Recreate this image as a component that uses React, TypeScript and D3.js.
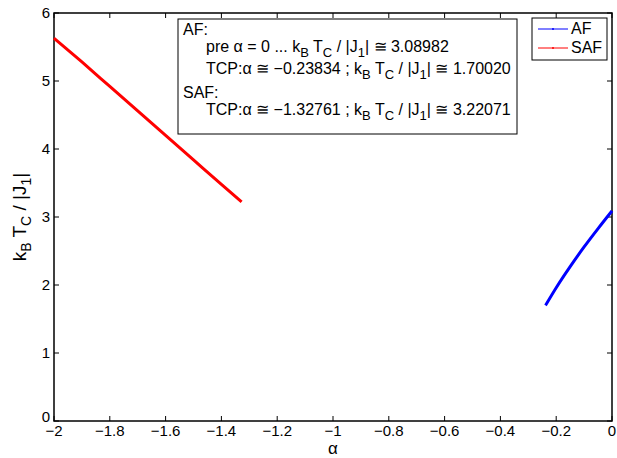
import React, { useEffect, useRef } from 'react';
import * as d3 from 'd3';

const xTicks = [-2, -1.8, -1.6, -1.4, -1.2, -1, -0.8, -0.6, -0.4, -0.2, 0];
const yTicks = [0, 1, 2, 3, 4, 5, 6];

// SAF branch (red)
const safAlpha = [-2, -1.9, -1.8, -1.7, -1.6, -1.5, -1.4, -1.32761];
const safT = [5.63, 5.28, 4.92, 4.56, 4.2, 3.84, 3.48, 3.22071];

// AF branch (blue)
const afAlpha = [-0.23834, -0.2, -0.15, -0.1, -0.05, 0];
const afT = [1.7002, 1.96, 2.27, 2.56, 2.83, 3.08982];

const fmt = (v: number) => (v === 0 ? '0' : String(v).replace('-', '\u2212'));

export default function App() {
  const ref = useRef<SVGSVGElement>(null);

  useEffect(() => {
    const svg = d3.select(ref.current);
    svg.selectAll('*').remove();

    const W = 617;
    const H = 458;
    const margin = { top: 13, right: 5, bottom: 37, left: 54 };
    const x = d3.scaleLinear().domain([-2, 0]).range([margin.left, W - margin.right]);
    const y = d3.scaleLinear().domain([0, 6]).range([H - margin.bottom, margin.top]);
    const font = 'Liberation Sans, Arial, sans-serif';

    svg.append('rect').attr('width', W).attr('height', H).attr('fill', '#fff');

    // axes with inward ticks
    const tl = 5;
    const ax = svg.append('g').attr('stroke', '#000').attr('stroke-width', 1);
    xTicks.forEach((t) => {
      ax.append('line').attr('x1', x(t)).attr('x2', x(t)).attr('y1', y(0)).attr('y2', y(0) - tl);
      ax.append('line').attr('x1', x(t)).attr('x2', x(t)).attr('y1', y(6)).attr('y2', y(6) + tl);
    });
    yTicks.forEach((t) => {
      ax.append('line').attr('x1', x(-2)).attr('x2', x(-2) + tl).attr('y1', y(t)).attr('y2', y(t));
      ax.append('line').attr('x1', x(0)).attr('x2', x(0) - tl).attr('y1', y(t)).attr('y2', y(t));
    });
    svg.append('rect')
      .attr('x', x(-2)).attr('y', y(6))
      .attr('width', x(0) - x(-2)).attr('height', y(0) - y(6))
      .attr('fill', 'none').attr('stroke', '#000').attr('stroke-width', 1.5);

    svg.append('g').selectAll('text').data(xTicks).enter().append('text')
      .attr('x', (d) => x(d)).attr('y', y(0) + 15)
      .attr('text-anchor', 'middle').attr('font-family', font).attr('font-size', 15)
      .text((d) => fmt(d));
    svg.append('g').selectAll('text').data(yTicks).enter().append('text')
      .attr('x', x(-2) - 4).attr('y', (d) => y(d) + (d === 0 ? 1 : 5))
      .attr('text-anchor', 'end').attr('font-family', font).attr('font-size', 15)
      .text((d) => String(d));

    // axis labels
    svg.append('text').attr('x', (x(-2) + x(0)) / 2).attr('y', 454)
      .attr('text-anchor', 'middle').attr('font-family', font).attr('font-size', 17).text('\u03b1');
    const yl = svg.append('text')
      .attr('transform', `translate(26,${(y(0) + y(6)) / 2}) rotate(-90)`)
      .attr('text-anchor', 'middle').attr('font-family', font).attr('font-size', 19);
    yl.append('tspan').text('k');
    yl.append('tspan').attr('dy', 5).attr('font-size', 14).text('B');
    yl.append('tspan').attr('dy', -5).text(' T');
    yl.append('tspan').attr('dy', 5).attr('font-size', 14).text('C');
    yl.append('tspan').attr('dy', -5).text(' / |J');
    yl.append('tspan').attr('dy', 5).attr('font-size', 14).text('1');
    yl.append('tspan').attr('dy', -5).text('|');

    // curves
    const line = d3.line<[number, number]>().x((d) => x(d[0])).y((d) => y(d[1])).curve(d3.curveMonotoneX);
    svg.append('path')
      .attr('d', line(safAlpha.map((a, i) => [a, safT[i]]))!)
      .attr('fill', 'none').attr('stroke', '#ff0000').attr('stroke-width', 3);
    svg.append('path')
      .attr('d', line(afAlpha.map((a, i) => [a, afT[i]]))!)
      .attr('fill', 'none').attr('stroke', '#0000ff').attr('stroke-width', 3);

    // annotation box
    const bx = 178, by = 19, bw = 339, bh = 115;
    svg.append('rect').attr('x', bx).attr('y', by).attr('width', bw).attr('height', bh)
      .attr('fill', '#fff').attr('stroke', '#000').attr('stroke-width', 1);
    const fs = 16;
    const addLine = (tx: number, ty: number, parts: [string, boolean][]) => {
      const t = svg.append('text').attr('x', tx).attr('y', ty).attr('font-family', font).attr('font-size', fs);
      let sub = false;
      parts.forEach(([s, isSub]) => {
        const sp = t.append('tspan').text(s);
        if (isSub) sp.attr('font-size', 13);
        if (isSub && !sub) sp.attr('dy', 5);
        else if (!isSub && sub) sp.attr('dy', -5);
        sub = isSub;
      });
    };
    const kt: [string, boolean][] = [['k', false], ['B', true], [' T', false], ['C', true], [' / |J', false], ['1', true]];
    addLine(bx + 5, by + 16, [['AF:', false]]);
    addLine(bx + 28, by + 33, [['pre \u03b1 = 0 ... ', false], ...kt, ['| \u2245 3.08982', false]]);
    addLine(bx + 28, by + 55, [['TCP:\u03b1 \u2245 \u22120.23834 ; ', false], ...kt, ['| \u2245 1.70020', false]]);
    addLine(bx + 5, by + 79, [['SAF:', false]]);
    addLine(bx + 28, by + 96, [['TCP:\u03b1 \u2245 \u22121.32761 ; ', false], ...kt, ['| \u2245 3.22071', false]]);

    // legend
    const lx = 532, ly = 18, lw = 75, lh = 42;
    svg.append('rect').attr('x', lx).attr('y', ly).attr('width', lw).attr('height', lh)
      .attr('fill', '#fff').attr('stroke', '#000').attr('stroke-width', 1);
    const legend: [string, string][] = [['AF', '#0000ff'], ['SAF', '#ff0000']];
    legend.forEach(([name, c], i) => {
      const yy = ly + 11 + i * 19;
      svg.append('line').attr('x1', lx + 6).attr('x2', lx + 36).attr('y1', yy).attr('y2', yy)
        .attr('stroke', c).attr('stroke-width', 1);
      svg.append('circle').attr('cx', lx + 21).attr('cy', yy).attr('r', 1).attr('fill', c);
      svg.append('text').attr('x', lx + 39).attr('y', yy + 5).attr('font-family', font).attr('font-size', 16).text(name);
    });
  }, []);

  return <svg ref={ref} width={617} height={458} style={{ position: 'absolute', left: 0, top: 0 }} />;
}
